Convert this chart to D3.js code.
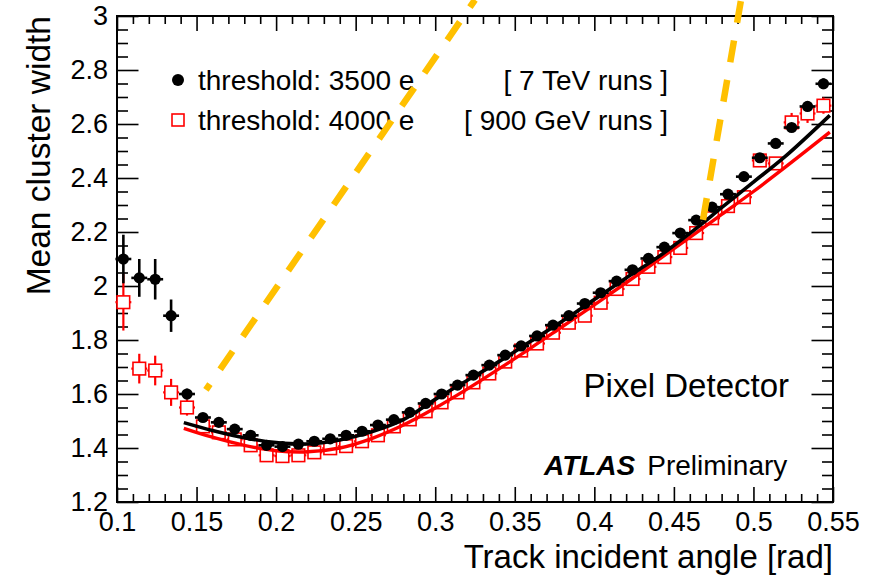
<!DOCTYPE html>
<html>
<head>
<meta charset="utf-8">
<script src="https://cdn.jsdelivr.net/npm/d3@7"></script>
<style>
  html, body { margin: 0; padding: 0; background: #fff; }
  svg { display: block; }
  text { font-family: "Liberation Sans", Arial, Helvetica, sans-serif; fill: #000; }
</style>
</head>
<body>
<svg id="chart" width="877" height="576"></svg>
<script>
// ---------- data ----------
const angleBins = [0.104,0.114,0.124,0.134,0.144,0.154,0.164,0.174,0.184,0.194,
  0.204,0.214,0.224,0.234,0.244,0.254,0.264,0.274,0.284,0.294,
  0.304,0.314,0.324,0.334,0.344,0.354,0.364,0.374,0.384,0.394,
  0.404,0.414,0.424,0.434,0.444,0.454,0.464,0.474,0.484,0.494,
  0.504,0.514,0.524,0.534,0.544];
const width3500 = [2.10,2.03,2.025,1.89,1.60,1.513,1.495,1.47,1.447,1.41,
  1.405,1.414,1.425,1.434,1.447,1.462,1.485,1.505,1.532,1.565,
  1.60,1.633,1.67,1.707,1.744,1.778,1.815,1.855,1.89,1.935,
  1.975,2.018,2.06,2.102,2.144,2.196,2.244,2.292,2.34,2.405,
  2.475,2.528,2.587,2.665,2.749];
const err3500 = [0.09,0.07,0.075,0.06,0.02,0.012,0.01,0.01,0.01,0.01,
  0.01,0.01,0.01,0.01,0.01,0.01,0.01,0.01,0.01,0.01,
  0.01,0.01,0.01,0.01,0.01,0.01,0.01,0.01,0.01,0.01,
  0.01,0.01,0.01,0.01,0.01,0.01,0.01,0.01,0.01,0.012,
  0.012,0.012,0.015,0.015,0.02];
const width4000 = [1.94,1.694,1.687,1.606,1.55,1.48,1.458,1.432,1.41,1.373,
  1.37,1.373,1.384,1.399,1.407,1.425,1.447,1.48,1.506,1.536,
  1.569,1.606,1.643,1.676,1.72,1.761,1.787,1.827,1.864,1.89,
  1.938,1.989,2.026,2.071,2.107,2.141,2.196,2.251,2.296,2.329,
  2.465,2.454,2.606,2.639,2.668];
const err4000 = [0.105,0.055,0.055,0.05,0.03,0.015,0.012,0.012,0.012,0.012,
  0.012,0.012,0.012,0.012,0.012,0.012,0.012,0.012,0.012,0.012,
  0.012,0.012,0.012,0.012,0.012,0.012,0.012,0.012,0.012,0.012,
  0.012,0.012,0.012,0.012,0.012,0.012,0.012,0.015,0.015,0.015,
  0.02,0.02,0.035,0.035,0.03];
const binHalfWidth = 0.005;

const fitX     = [0.142,0.16,0.18,0.20,0.22,0.24,0.26,0.28,0.30,0.32,0.34,0.36,0.38,0.40,0.42,0.44,0.46,0.48,0.50,0.52,0.548];
const fit3500  = [1.494,1.465,1.438,1.420,1.415,1.430,1.460,1.505,1.580,1.650,1.720,1.795,1.870,1.950,2.030,2.107,2.195,2.290,2.385,2.480,2.632];
const fit4000  = [1.473,1.440,1.410,1.390,1.386,1.400,1.435,1.485,1.548,1.618,1.693,1.770,1.850,1.930,2.012,2.096,2.180,2.265,2.350,2.440,2.570];

// yellow dashed guide lines: [x1, y1, x2, y2]
const guide1 = [0.1559, 1.615, 0.325, 3.06];
const guide2 = [0.4683, 2.245, 0.4922, 3.06];

const xTicks = [0.1,0.15,0.2,0.25,0.3,0.35,0.4,0.45,0.5,0.55];
const xTickLabels = ["0.1","0.15","0.2","0.25","0.3","0.35","0.4","0.45","0.5","0.55"];
const yTicks = [1.2,1.4,1.6,1.8,2.0,2.2,2.4,2.6,2.8,3.0];
const yTickLabels = ["1.2","1.4","1.6","1.8","2","2.2","2.4","2.6","2.8","3"];

const legendLabels = ["threshold: 3500 e", "threshold: 4000 e"];
const legendRuns = ["[ 7 TeV runs ]", "[ 900 GeV runs ]"];

// ---------- layout ----------
const L = 117, R = 833, T = 16, B = 502;
const svg = d3.select("#chart");
const x = d3.scaleLinear().domain([0.1, 0.55]).range([L, R]);
const y = d3.scaleLinear().domain([1.2, 3.0]).range([B, T]);

const xMinor = d3.range(10, 56, 1).map(v => v / 100).filter(v => !xTicks.some(t => Math.abs(t - v) < 1e-9));
const yMinor = d3.range(120, 301, 5).map(v => v / 100).filter(v => !yTicks.some(t => Math.abs(t - v) < 1e-9));

const FONT_TICK = 27;

// axes (ticks point inward, mirrored on top/right)
svg.append("g").attr("transform", `translate(0,${B})`)
  .call(d3.axisBottom(x).tickValues(xTicks).tickSize(-15).tickPadding(10)
    .tickFormat((d, i) => xTickLabels[i]));
svg.append("g").attr("transform", `translate(0,${B})`)
  .call(d3.axisBottom(x).tickValues(xMinor).tickSize(-8).tickFormat(""));
svg.append("g").attr("transform", `translate(0,${T})`)
  .call(d3.axisTop(x).tickValues(xTicks).tickSize(-15).tickFormat(""));
svg.append("g").attr("transform", `translate(0,${T})`)
  .call(d3.axisTop(x).tickValues(xMinor).tickSize(-8).tickFormat(""));

svg.append("g").attr("transform", `translate(${L},0)`)
  .call(d3.axisLeft(y).tickValues(yTicks).tickSize(-21.5).tickPadding(9)
    .tickFormat((d, i) => yTickLabels[i]));
svg.append("g").attr("transform", `translate(${L},0)`)
  .call(d3.axisLeft(y).tickValues(yMinor).tickSize(-11).tickFormat(""));
svg.append("g").attr("transform", `translate(${R},0)`)
  .call(d3.axisRight(y).tickValues(yTicks).tickSize(-21.5).tickFormat(""));
svg.append("g").attr("transform", `translate(${R},0)`)
  .call(d3.axisRight(y).tickValues(yMinor).tickSize(-11).tickFormat(""));

svg.selectAll(".domain").remove();
svg.selectAll(".tick line").attr("stroke", "#000").attr("stroke-width", 1.6);
svg.selectAll(".tick text").attr("font-size", FONT_TICK)
  .style("font-family", '"Liberation Sans", Arial, Helvetica, sans-serif').attr("fill", "#000");

// frame
svg.append("rect").attr("x", L).attr("y", T).attr("width", R - L).attr("height", B - T)
  .attr("fill", "none").attr("stroke", "#000").attr("stroke-width", 2);

// axis titles
svg.append("text").attr("x", R).attr("y", 568).attr("text-anchor", "end")
  .attr("font-size", 33).text("Track incident angle [rad]");
svg.append("text").attr("transform", `translate(50,${T}) rotate(-90)`).attr("text-anchor", "end")
  .attr("font-size", 33.5).text("Mean cluster width");

// ---------- data points and fit curves ----------
const plot = svg.append("g");
const line = d3.line().x(d => x(d[0])).y(d => y(d[1])).curve(d3.curveCatmullRom);

function drawSeries(vals, errs, color, kind) {
  const g = plot.append("g");
  angleBins.forEach((a, i) => {
    const cx = x(a), cy = y(vals[i]);
    g.append("line").attr("x1", cx).attr("x2", cx)
      .attr("y1", y(vals[i] + errs[i])).attr("y2", y(vals[i] - errs[i]))
      .attr("stroke", color).attr("stroke-width", kind === "circle" ? 2.6 : 2.2);
    g.append("line").attr("x1", x(a - binHalfWidth)).attr("x2", x(a + binHalfWidth))
      .attr("y1", cy).attr("y2", cy)
      .attr("stroke", color).attr("stroke-width", kind === "circle" ? 2.6 : 2.2);
    if (kind === "circle") {
      g.append("circle").attr("cx", cx).attr("cy", cy).attr("r", 5.6).attr("fill", color);
    } else {
      g.append("rect").attr("x", cx - 6.3).attr("y", cy - 6.3).attr("width", 12.6).attr("height", 12.6)
        .attr("fill", "#fff").attr("stroke", color).attr("stroke-width", 1.6);
    }
  });
}

drawSeries(width4000, err4000, "#ff0000", "square");
plot.append("path").datum(fitX.map((v, i) => [v, fit4000[i]])).attr("d", line)
  .attr("fill", "none").attr("stroke", "#ff0000").attr("stroke-width", 3.4);
drawSeries(width3500, err3500, "#000000", "circle");
plot.append("path").datum(fitX.map((v, i) => [v, fit3500[i]])).attr("d", line)
  .attr("fill", "none").attr("stroke", "#000000").attr("stroke-width", 3.6);

// ---------- legend ----------
const legY = [80, 120];
svg.append("circle").attr("cx", 178).attr("cy", legY[0]).attr("r", 6).attr("fill", "#000");
svg.append("rect").attr("x", 172).attr("y", legY[1] - 6).attr("width", 12).attr("height", 12)
  .attr("fill", "#fff").attr("stroke", "#ff0000").attr("stroke-width", 1.6);
legendLabels.forEach((t, i) => {
  svg.append("text").attr("x", 198).attr("y", legY[i] + 10).attr("font-size", 28).text(t);
  svg.append("text").attr("x", 668).attr("y", legY[i] + 10).attr("font-size", 28)
    .attr("text-anchor", "end").text(legendRuns[i]);
});

// ---------- annotations ----------
svg.append("text").attr("x", 789).attr("y", 397).attr("text-anchor", "end")
  .attr("font-size", 33).text("Pixel Detector");
const atl = svg.append("text").attr("x", 544).attr("y", 475).attr("font-size", 28);
atl.append("tspan").attr("font-weight", "bold").attr("font-style", "italic").text("ATLAS");
atl.append("tspan").attr("dx", 12).text("Preliminary");

// ---------- yellow dashed guide lines ----------
[[guide1, 15], [guide2, 0]].forEach(([gd, off]) => {
  svg.append("line")
    .attr("x1", x(gd[0])).attr("y1", y(gd[1]))
    .attr("x2", x(gd[2])).attr("y2", y(gd[3]))
    .attr("stroke", "#ffc000").attr("stroke-width", 6.5)
    .attr("stroke-dasharray", "22,18").attr("stroke-dashoffset", off);
});
</script>
</body>
</html>
